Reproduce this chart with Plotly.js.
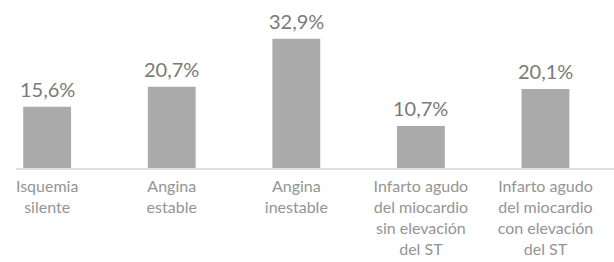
<!DOCTYPE html>
<html>
<head>
<meta charset="utf-8">
<script src="https://cdn.plot.ly/plotly-3.0.1.min.js"></script>
<style>html,body{margin:0;padding:0;background:#fff;}#chart{width:614px;height:262px;}</style>
</head>
<body>
<div id="chart"></div>
<script>
var categories = [
  "Isquemia<br>silente",
  "Angina<br>estable",
  "Angina<br>inestable",
  "Infarto agudo<br>del miocardio<br>sin elevación<br>del ST",
  "Infarto agudo<br>del miocardio<br>con elevación<br>del ST"
];
var values = [15.6, 20.7, 32.9, 10.7, 20.1];
var valueLabels = values.map(function (v) { return v.toFixed(1).replace('.', ',') + '%'; });

var trace = {
  type: 'bar',
  x: categories,
  y: values,
  marker: { color: '#aaaaaa' },
  hoverinfo: 'none'
};

var annotations = categories.map(function (c, i) {
  return {
    x: c, y: values[i], xref: 'x', yref: 'y',
    text: valueLabels[i], showarrow: false,
    yanchor: 'bottom', yshift: 4,
    font: { family: 'Lato, sans-serif', size: 20, color: '#7a7a7a' }
  };
});

var layout = {
  width: 614, height: 262,
  margin: { l: 16, r: 0, t: 11, b: 94 },
  paper_bgcolor: '#ffffff', plot_bgcolor: '#ffffff',
  showlegend: false,
  bargap: 0.616,
  xaxis: {
    type: 'category',
    range: [-0.25, 4.55],
    showline: true, linecolor: '#e0e0e0', linewidth: 2,
    ticks: 'outside', ticklen: 3, tickcolor: 'rgba(0,0,0,0)',
    showgrid: false, zeroline: false,
    tickfont: { family: 'Lato, sans-serif', size: 16, color: '#949494' },
    fixedrange: true
  },
  yaxis: {
    range: [0, 40],
    visible: false, showgrid: false, zeroline: false,
    fixedrange: true
  },
  annotations: annotations
};

Plotly.newPlot('chart', [trace], layout, { displayModeBar: false, staticPlot: true });
</script>
</body>
</html>
